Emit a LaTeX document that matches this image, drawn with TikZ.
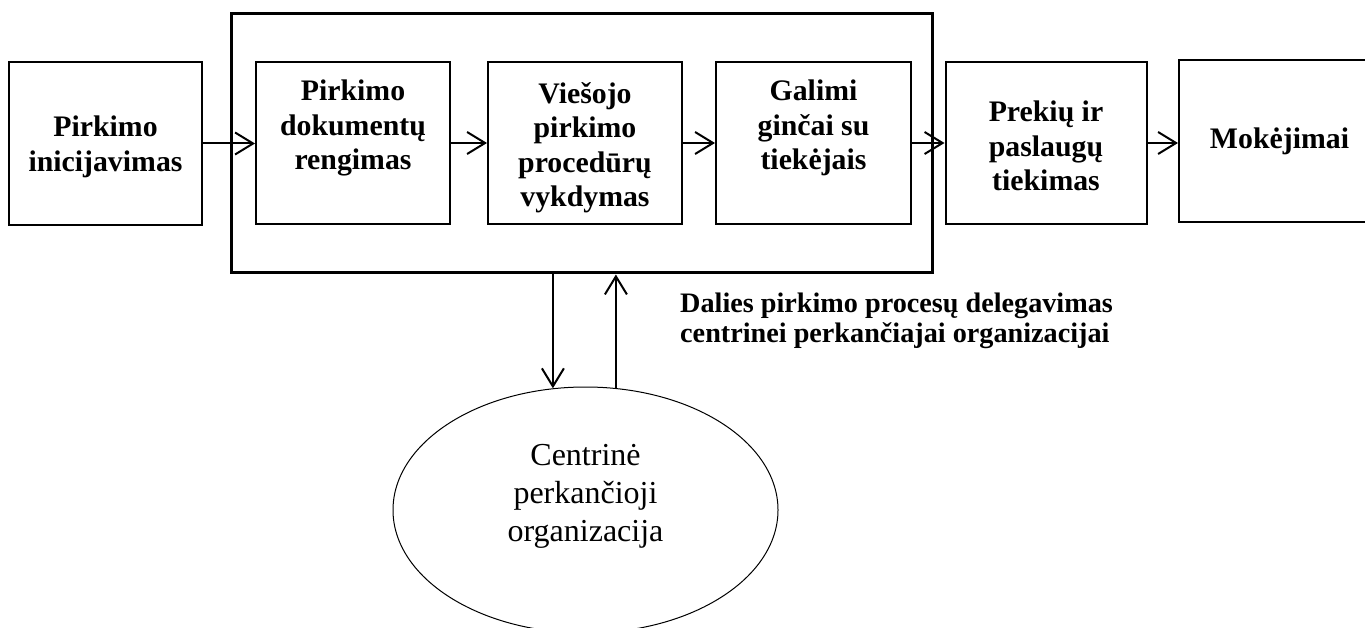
\documentclass[tikz,border=0pt]{standalone}
\usepackage{fontspec}
\setmainfont{Liberation Serif}
\usetikzlibrary{arrows.meta,shapes.geometric}
\begin{document}
\begin{tikzpicture}[x=1pt,y=-1pt,
  box/.style={draw, line width=2pt, inner sep=0pt},
  btxt/.style={inner sep=0pt, align=center, font=\fontsize{29.8}{34.5}\selectfont\bfseries},
  arr/.style={line width=2pt, -{Straight Barb[length=18pt,width=22pt]}}]
\useasboundingbox (0,0) rectangle (1365,628);
% group box
\node[draw, line width=3pt, inner sep=0pt, minimum width=701pt, minimum height=259pt] (grp) at (581.5,143.5) {};
% boxes
\node[box, minimum width=193pt, minimum height=163pt] (b1) at (105.5,143.5) {};
\node[btxt] (t1) at (105.5,147) {Pirkimo\\inicijavimas};
\node[box, minimum width=194pt, minimum height=162pt] (b2) at (353,143) {};
\node[box, minimum width=194pt, minimum height=162pt] (b3) at (585,143) {};
\node[box, minimum width=195pt, minimum height=162pt] (b4) at (813.5,143) {};
\node[box, minimum width=201pt, minimum height=162pt] (b5) at (1046,143) {};
\node[btxt] (t5) at (1046,146) {Prekių ir\\paslaugų\\tiekimas};
\node[box, minimum width=201pt, minimum height=162pt, btxt] (b6) at (1279.5,141) {Mokėjimai};
% top-aligned texts
\node[btxt, anchor=north] (t2) at (b2.north |- 0,80) {Pirkimo\\dokumentų\\rengimas};
\node[btxt, anchor=north] (t3) at (b3.north |- 0,82) {Viešojo\\pirkimo\\procedūrų\\vykdymas};
\node[btxt, anchor=north] (t4) at (b4.north |- 0,80) {Galimi\\ginčai su\\tiekėjais};
% ellipse
\node[draw, ellipse, line width=1pt, inner sep=0pt, minimum width=385pt, minimum height=246pt] (cpo) at (585.5,510) {};
\node[inner sep=0pt, align=center, font=\fontsize{32}{38}\selectfont] (cpot) at (585.5,496) {Centrinė\\perkančioji\\organizacija};
% label
\node[inner sep=0pt, anchor=north west, align=left, font=\fontsize{28.2}{29.5}\selectfont\bfseries] (lab) at (680,293) {Dalies pirkimo procesų delegavimas\\centrinei perkančiajai organizacijai};
% arrows
\draw[arr] (b1.east) -- (b1.east -| b2.west);
\draw[arr] (b2.east) -- (b2.east -| b3.west);
\draw[arr] (b3.east) -- (b3.east -| b4.west);
\draw[arr] (b4.east) -- (b4.east -| b5.west);
\draw[arr] (b5.east) -- (b5.east -| b6.west);
\draw[arr] (grp.south -| cpo.105.5) -- (cpo.105.5);
\draw[arr] (cpo.76) -- (grp.south -| cpo.76);
\end{tikzpicture}
\end{document}
